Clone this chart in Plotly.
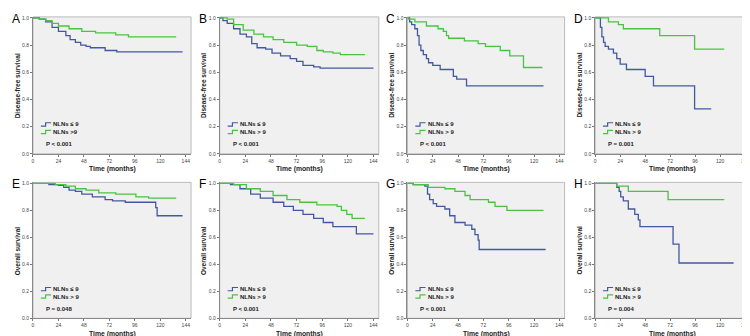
import plotly.graph_objects as go

# ---------------- data ----------------
panel_letters = ["A", "B", "C", "D", "E", "F", "G", "H"]
y_titles = ["Disease-free survival"] * 4 + ["Overall survival"] * 4
p_texts = ["P < 0.001", "P < 0.001", "P < 0.001", "P = 0.001",
           "P = 0.048", "P < 0.001", "P < 0.001", "P = 0.004"]
legend_low = ["NLNs \u2264 9"] * 8
legend_high = ["NLNs >9", "NLNs > 9", "NLNs > 9", "NLNs > 9",
               "NLNs > 9", "NLNs > 9", "NLNs > 9", "NLNs > 9"]
x_tick_vals = [0, 24, 48, 72, 96, 120, 144]
y_tick_vals = [0.0, 0.2, 0.4, 0.6, 0.8, 1.0]
y_tick_text = ["0.0", "0.2", "0.4", "0.6", "0.8", "1.0"]

# step-change times / survival values (Kaplan-Meier)
A_low_t = [0, 6, 12, 18, 24, 31, 35, 40, 45, 50, 54, 68, 79, 141]
A_low_s = [1.0, 0.99, 0.97, 0.93, 0.90, 0.87, 0.84, 0.82, 0.80, 0.79, 0.78, 0.76, 0.75, 0.75]
A_high_t = [0, 6, 12, 18, 24, 34, 46, 59, 78, 90, 135]
A_high_s = [1.0, 0.99, 0.98, 0.96, 0.94, 0.92, 0.90, 0.89, 0.875, 0.86, 0.86]

B_low_t = [0, 3, 7, 13, 19, 25, 30, 35, 43, 49, 57, 66, 72, 78, 88, 94, 144]
B_low_s = [1.0, 0.98, 0.96, 0.92, 0.88, 0.86, 0.81, 0.78, 0.77, 0.74, 0.72, 0.70, 0.68, 0.65, 0.64, 0.63, 0.63]
B_high_t = [0, 7, 13, 22, 32, 41, 50, 60, 72, 82, 91, 97, 106, 113, 136]
B_high_s = [1.0, 0.99, 0.95, 0.91, 0.88, 0.86, 0.84, 0.82, 0.80, 0.79, 0.76, 0.75, 0.74, 0.73, 0.73]

C_low_t = [0, 2, 4, 7, 9.5, 11, 12.7, 15, 18, 20, 24, 31, 43.5, 46.7, 56, 129]
C_low_s = [1.0, 0.97, 0.95, 0.92, 0.87, 0.80, 0.76, 0.73, 0.70, 0.67, 0.65, 0.62, 0.57, 0.55, 0.50, 0.50]
C_high_t = [0, 1, 7, 18, 29, 34, 37, 39, 54, 67, 74, 88, 97, 110, 128]
C_high_s = [1.0, 0.99, 0.97, 0.94, 0.92, 0.90, 0.87, 0.85, 0.83, 0.81, 0.79, 0.76, 0.72, 0.635, 0.635]

D_low_t = [0, 5, 6.4, 8, 9.5, 12.7, 17.5, 20.7, 24, 30, 48, 56, 95.5, 111.5]
D_low_s = [1.0, 0.93, 0.86, 0.82, 0.79, 0.77, 0.74, 0.70, 0.66, 0.62, 0.57, 0.50, 0.33, 0.33]
D_high_t = [0, 12.7, 22.3, 27, 62, 95.5, 124]
D_high_s = [1.0, 0.97, 0.95, 0.92, 0.87, 0.77, 0.77]

E_low_t = [0, 15, 24, 29, 34, 40, 46, 56, 68, 75, 87, 115.7, 117, 141]
E_low_s = [1.0, 0.99, 0.985, 0.97, 0.95, 0.94, 0.92, 0.90, 0.88, 0.87, 0.86, 0.82, 0.76, 0.76]
E_high_t = [0, 21, 31, 40, 50, 62, 78, 97, 109, 135]
E_high_s = [1.0, 0.99, 0.98, 0.96, 0.95, 0.93, 0.92, 0.90, 0.89, 0.89]

F_low_t = [0, 10, 19, 29, 38, 50, 60, 69, 78, 88, 97, 106, 128, 144]
F_low_s = [1.0, 0.99, 0.96, 0.92, 0.89, 0.86, 0.83, 0.80, 0.77, 0.74, 0.71, 0.68, 0.625, 0.625]
F_high_t = [0, 13, 25, 38, 50, 63, 75, 91, 110, 114, 119, 124, 136]
F_high_s = [1.0, 0.99, 0.96, 0.94, 0.91, 0.88, 0.86, 0.84, 0.83, 0.80, 0.77, 0.74, 0.74]

G_low_t = [0, 5.4, 16.5, 19, 21, 24.4, 27.6, 35.5, 40, 45, 54.6, 61, 64, 67, 68, 131]
G_low_s = [1.0, 0.99, 0.98, 0.92, 0.88, 0.85, 0.83, 0.81, 0.76, 0.71, 0.69, 0.66, 0.62, 0.58, 0.51, 0.51]
G_high_t = [0, 5.4, 19.7, 35.5, 45, 54.6, 59.4, 76.8, 83, 94.3, 129]
G_high_s = [1.0, 0.99, 0.97, 0.96, 0.94, 0.91, 0.88, 0.86, 0.83, 0.80, 0.80]

H_low_t = [0, 20.7, 23, 24.5, 27, 31.8, 38, 41.4, 43, 74.8, 80.5, 133]
H_low_s = [1.0, 0.97, 0.94, 0.90, 0.87, 0.81, 0.77, 0.73, 0.68, 0.55, 0.41, 0.41]
H_high_t = [0, 20.7, 31.8, 70, 124]
H_high_s = [1.0, 0.98, 0.94, 0.88, 0.88]

low_times = [A_low_t, B_low_t, C_low_t, D_low_t, E_low_t, F_low_t, G_low_t, H_low_t]
low_surv = [A_low_s, B_low_s, C_low_s, D_low_s, E_low_s, F_low_s, G_low_s, H_low_s]
high_times = [A_high_t, B_high_t, C_high_t, D_high_t, E_high_t, F_high_t, G_high_t, H_high_t]
high_surv = [A_high_s, B_high_s, C_high_s, D_high_s, E_high_s, F_high_s, G_high_s, H_high_s]

# ---------------- layout geometry ----------------
W, H = 750, 336
BLUE = "rgb(66,88,160)"
GREEN = "rgb(72,196,64)"
X_MAX = 149
col_left = [24, 211, 399, 587]
col_ppm = [1.0625, 1.069, 1.056, 1.042]
row_top = [8, 176]
row_bottom = [146, 313]
FONT = "Liberation Sans"

fig = go.Figure()
layout_axes = {}
annotations = []
shapes = []

for i in range(8):
    r, c = divmod(i, 4)
    n = i + 1
    xa = "x" if n == 1 else f"x{n}"
    ya = "y" if n == 1 else f"y{n}"
    xkey = "xaxis" if n == 1 else f"xaxis{n}"
    ykey = "yaxis" if n == 1 else f"yaxis{n}"
    x0 = col_left[c]
    x1 = x0 + X_MAX * col_ppm[c]
    y_top = row_top[r] - 1
    y_bot = row_bottom[r]
    xdom = [x0 / W, x1 / W]
    ydom = [1 - y_bot / H, 1 - y_top / H]

    fig.add_trace(go.Scatter(x=low_times[i], y=low_surv[i], mode="lines",
                             line=dict(color=BLUE, width=1.3, shape="hv"),
                             name=legend_low[i], showlegend=False,
                             xaxis=xa, yaxis=ya))
    fig.add_trace(go.Scatter(x=high_times[i], y=high_surv[i], mode="lines",
                             line=dict(color=GREEN, width=1.3, shape="hv"),
                             name=legend_high[i], showlegend=False,
                             xaxis=xa, yaxis=ya))

    layout_axes[xkey] = dict(domain=xdom, range=[0, X_MAX], anchor=ya,
                             tickvals=x_tick_vals, ticks="outside", ticklen=2,
                             tickcolor="#777", tickfont=dict(size=5, color="#444", family=FONT),
                             showgrid=False, zeroline=False, showline=True,
                             linecolor="#888", linewidth=1, fixedrange=True)
    layout_axes[ykey] = dict(domain=ydom, range=[0, 1.007], anchor=xa,
                             tickvals=y_tick_vals, ticktext=y_tick_text,
                             ticks="outside", ticklen=2, tickcolor="#777",
                             tickfont=dict(size=5, color="#444", family=FONT),
                             showgrid=False, zeroline=False, showline=True,
                             linecolor="#888", linewidth=1, fixedrange=True)

    shapes.append(dict(type="rect", xref=f"{xa} domain", yref=f"{ya} domain",
                       x0=0, x1=1, y0=0, y1=1, fillcolor="rgb(240,240,240)",
                       line=dict(color="#bbb", width=1), layer="below"))

    # panel letter
    annotations.append(dict(text=panel_letters[i], xref="paper", yref="paper",
                            x=(x0 - 23) / W, y=1 - (y_top + 2) / H,
                            xanchor="left", yanchor="middle", showarrow=False,
                            font=dict(size=12, color="black", family=FONT)))
    # y title
    annotations.append(dict(text=f"<b>{y_titles[i]}</b>", xref="paper", yref="paper",
                            x=(x0 - 16) / W, y=1 - ((y_top + y_bot) / 2) / H,
                            textangle=-90, xanchor="center", yanchor="middle",
                            showarrow=False,
                            font=dict(size=6.5, color="#222", family=FONT)))
    # x title
    annotations.append(dict(text="<b>Time (months)</b>", xref=f"{xa} domain", yref="paper",
                            x=0.5, y=1 - (y_bot + 15.5) / H, xanchor="center",
                            yanchor="middle", showarrow=False,
                            font=dict(size=6.8, color="#222", family=FONT)))
    # legend text
    annotations.append(dict(text=f"<b>{legend_low[i]}</b>", xref=f"{xa} domain",
                            yref=f"{ya} domain", x=0.115, y=0.215, xanchor="left",
                            yanchor="middle", showarrow=False,
                            font=dict(size=6, color="#222", family=FONT)))
    annotations.append(dict(text=f"<b>{legend_high[i]}</b>", xref=f"{xa} domain",
                            yref=f"{ya} domain", x=0.115, y=0.16, xanchor="left",
                            yanchor="middle", showarrow=False,
                            font=dict(size=6, color="#222", family=FONT)))
    annotations.append(dict(text=f"<b>{p_texts[i]}</b>", xref=f"{xa} domain",
                            yref=f"{ya} domain", x=0.07, y=0.072, xanchor="left",
                            yanchor="middle", showarrow=False,
                            font=dict(size=6, color="#222", family=FONT)))
    for col, yc in ((BLUE, 0.215), (GREEN, 0.16)):
        shapes.append(dict(type="path", xref=f"{xa} domain", yref=f"{ya} domain",
                           path=f"M 0.05 {yc - 0.012} L 0.08 {yc - 0.012} L 0.08 {yc + 0.012} L 0.115 {yc + 0.012}",
                           line=dict(color=col, width=1.2)))

fig.update_layout(width=W, height=H, margin=dict(l=0, r=0, t=0, b=0),
                  paper_bgcolor="white", plot_bgcolor="rgba(0,0,0,0)",
                  showlegend=False, annotations=annotations, shapes=shapes,
                  **layout_axes)

fig.write_html("out.html")
